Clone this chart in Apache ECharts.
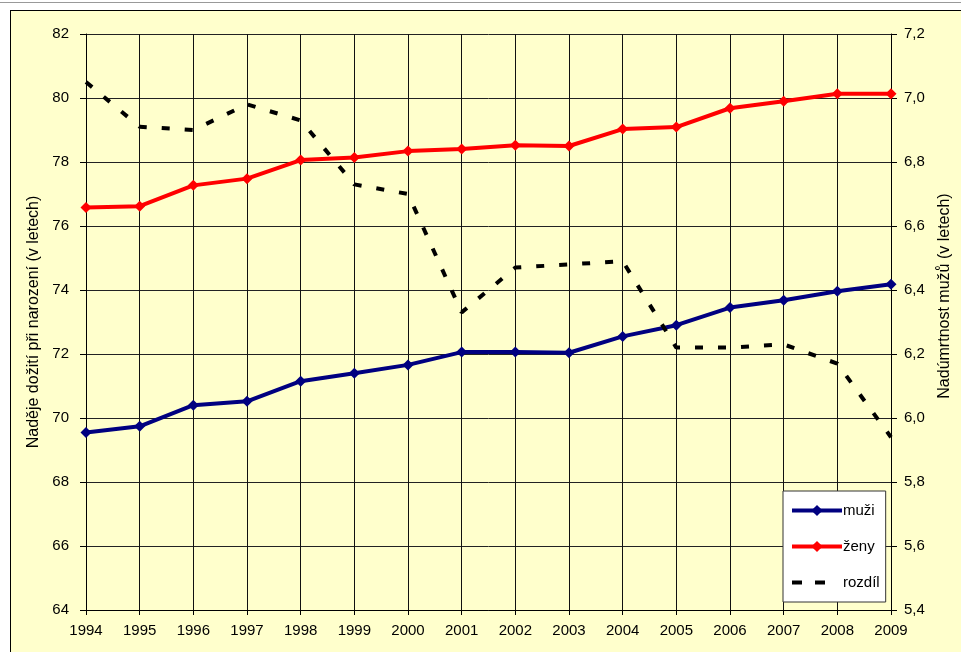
<!DOCTYPE html>
<html>
<head>
<meta charset="utf-8">
<script src="https://cdn.jsdelivr.net/npm/echarts@6/dist/echarts.min.js"></script>
<style>
  html, body { margin: 0; padding: 0; background: #fff; }
  #topline { position: absolute; left: 0; top: 2px; width: 961px; height: 1px; background: #999; }
  #frame {
    position: absolute; left: 10px; top: 10px;
    width: 960px; height: 650px;
    border-left: 1px solid #000; border-top: 1px solid #000;
    background: #FFFFCC;
  }
  #chart { width: 950px; height: 641px; }
</style>
</head>
<body>
<div id="topline"></div>
<div id="frame"><div id="chart"></div></div>
<script>
// roky
const years = ['1994', '1995', '1996', '1997', '1998', '1999', '2000', '2001',
  '2002', '2003', '2004', '2005', '2006', '2007', '2008', '2009']
// nadeje doziti pri narozeni - muzi / zeny
const muzi = [69.55, 69.74, 70.40, 70.52, 71.15, 71.40, 71.66, 72.06,
  72.06, 72.04, 72.55, 72.90, 73.45, 73.68, 73.96, 74.18]
const zeny = [76.58, 76.62, 77.27, 77.48, 78.06, 78.14, 78.34, 78.41,
  78.52, 78.50, 79.03, 79.09, 79.68, 79.90, 80.13, 80.13]
// nadumrtnost muzu (rozdil)
const rozdil = [7.05, 6.91, 6.90, 6.98, 6.93, 6.73, 6.70, 6.33,
  6.47, 6.48, 6.49, 6.22, 6.22, 6.23, 6.17, 5.94]

const font = 'Arial, "Liberation Sans", sans-serif'
const comma = v => v.toFixed(1).replace('.', ',')

const chart = echarts.init(document.getElementById('chart'))
chart.setOption({
  animation: false,
  textStyle: { fontFamily: font },
  grid: { left: 75, right: 68, top: 23, bottom: 42 },
  legend: {
    orient: 'vertical',
    left: 772,
    top: 480,
    padding: [12, 6, 12, 7],
    itemWidth: 50,
    itemHeight: 14,
    itemGap: 21,
    backgroundColor: '#fff',
    borderColor: '#333',
    borderWidth: 1,
    textStyle: { fontFamily: font, fontSize: 15, color: '#000', padding: [0, 0, 0, -4] },
    data: [
      { name: 'muži', lineStyle: { width: 4 } },
      { name: 'ženy', lineStyle: { width: 4 } },
      { name: 'rozdíl', lineStyle: { width: 4, type: [10, 13, 10, 40] }, itemStyle: { opacity: 0 } }
    ]
  },
  xAxis: {
    type: 'category',
    boundaryGap: false,
    data: years,
    axisLine: { lineStyle: { color: '#000', width: 1 } },
    axisTick: { length: 5, lineStyle: { color: '#000' } },
    axisLabel: { color: '#000', fontSize: 15, margin: 13, fontFamily: font },
    splitLine: { show: true, lineStyle: { color: '#111', width: 1 } }
  },
  yAxis: [{
    type: 'value',
    min: 64,
    max: 82,
    interval: 2,
    name: 'Naděje dožití při narození (v letech)',
    nameLocation: 'middle',
    nameGap: 44,
    nameTextStyle: { color: '#000', fontSize: 16, fontFamily: font },
    axisLine: { show: true, lineStyle: { color: '#000' } },
    axisTick: { show: true, length: 6, lineStyle: { color: '#000' } },
    axisLabel: { color: '#000', fontSize: 15, margin: 17, fontFamily: font },
    splitLine: { show: true, lineStyle: { color: '#222', width: 1 } }
  }, {
    type: 'value',
    min: 5.4,
    max: 7.2,
    interval: 0.2,
    position: 'right',
    name: 'Nadúmrtnost mužů (v letech)',
    nameLocation: 'middle',
    nameGap: 46,
    nameRotate: 90,
    nameTextStyle: { color: '#000', fontSize: 16, fontFamily: font, padding: [0, 0, 0, 52] },
    axisLine: { show: true, lineStyle: { color: '#000' } },
    axisTick: { show: true, length: 6, lineStyle: { color: '#000' } },
    axisLabel: { color: '#000', fontSize: 15, margin: 13, fontFamily: font, formatter: comma },
    splitLine: { show: false }
  }],
  series: [{
    name: 'muži',
    type: 'line',
    data: muzi,
    symbol: 'diamond',
    symbolSize: 11,
    color: '#000080',
    lineStyle: { width: 4, color: '#000080' },
    itemStyle: { color: '#000080' }
  }, {
    name: 'ženy',
    type: 'line',
    data: zeny,
    symbol: 'diamond',
    symbolSize: 11,
    color: '#FF0000',
    lineStyle: { width: 4, color: '#FF0000' },
    itemStyle: { color: '#FF0000' }
  }, {
    name: 'rozdíl',
    type: 'line',
    yAxisIndex: 1,
    data: rozdil,
    symbol: 'none',
    color: '#000',
    lineStyle: { width: 4, color: '#000', type: [8, 15], cap: 'butt' }
  }]
})
</script>
</body>
</html>
